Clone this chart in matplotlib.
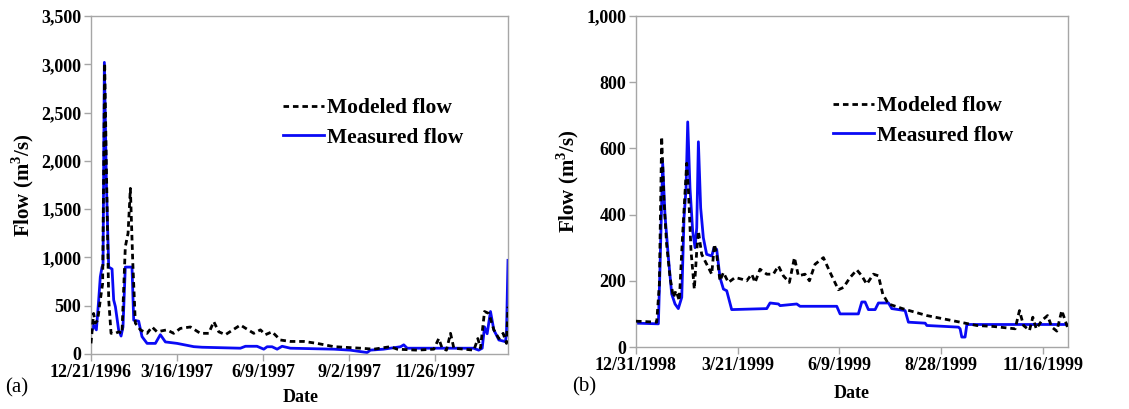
import matplotlib
matplotlib.use("Agg")
import matplotlib.pyplot as plt
import numpy as np
import pandas as pd

# ---------------- data: panel (a) ----------------
start_a = "1996-12-21"
meas_a_days = [0, 2.6, 5.3, 7.6, 9.2, 10.9, 11.9, 13.2, 15.2, 17.5, 20.8, 22.4, 24.1, 27.3, 29.7,
               31.6, 33.9, 40.5, 42.2, 47.1, 50.4, 55.4, 63.6, 68.5, 73.5, 85, 101.5, 109.7,
               147.6, 152.6, 164, 170.7, 174, 178.9, 183.9, 188.8, 197, 240, 256, 272.8, 276,
               289, 305.8, 309, 312.4, 338.7, 378, 383, 386.5, 388.8, 391.4, 394.7, 398, 403,
               409.5, 410.5, 412]
meas_a_vals = [214, 300, 250, 560, 800, 900, 920, 3020, 1770, 900, 880, 560, 490, 250, 186,
               280, 900, 900, 350, 340, 180, 110, 110, 200, 125, 110, 76, 70,
               60, 80, 80, 50, 75, 75, 50, 80, 60, 50, 40, 15, 40,
               50, 75, 95, 60, 60, 60, 40, 60, 280, 210, 440, 250, 145,
               128, 214, 970]
mod_a_days = [0, 2.6, 4.3, 6.6, 9.2, 11.5, 13.5, 15.2, 17.5, 19.8, 24.1, 27.3, 30.6, 33.9, 36.6,
              38.9, 41.2, 43.8, 48.8, 55.4, 60.3, 65.2, 75, 81.7, 88.3, 98.2, 108, 116.3, 121.3,
              126.2, 132.8, 147.6, 160.8, 167.4, 172.3, 178.9, 187.1, 197, 210.2, 223.4, 240,
              266.2, 279.4, 295.9, 302.5, 322.2, 338.7, 343.6, 346.9, 351.2, 355.2, 358.5,
              378.3, 382.2, 384.8, 388.8, 393.1, 398, 403, 407.2, 410.5, 412]
mod_a_vals = [110, 420, 320, 350, 560, 730, 3010, 1940, 560, 214, 214, 230, 214, 1110, 1250,
              1715, 970, 320, 250, 214, 280, 230, 250, 214, 265, 280, 214, 214, 335,
              230, 200, 300, 214, 250, 200, 230, 145, 130, 130, 110, 76,
              60, 50, 76, 50, 40, 50, 160, 60, 40, 214, 60,
              40, 160, 60, 440, 420, 250, 160, 214, 110, 490]
ticks_a = ["12/21/1996", "3/16/1997", "6/9/1997", "9/2/1997", "11/26/1997"]
tick_step_a = 85
xmax_a = 412
yticks_a = [0, 500, 1000, 1500, 2000, 2500, 3000, 3500]

# ---------------- data: panel (b) ----------------
start_b = "1998-12-31"
meas_b_days = [0, 17.6, 18.9, 21, 22.8, 25.5, 28.1, 30.7, 33.3, 36, 37.8, 39.4, 40.7, 42.5,
               44.6, 46.5, 47.8, 49.1, 50.9, 53, 55.6, 59.6, 61.4, 63.5, 66.1, 68.8, 71.4,
               75.3, 102.9, 105.5, 112.1, 113.4, 126.5, 129.1, 158, 160.6, 175, 177.7, 180.3,
               182.9, 188.2, 190.8, 198.7, 201.3, 211.8, 214.4, 227.6, 228.9, 253.8, 255.1,
               256.4, 259, 260.4, 340]
meas_b_vals = [72, 70, 240, 555, 400, 270, 160, 130, 116, 150, 390, 480, 680, 480,
               350, 300, 360, 620, 420, 330, 280, 275, 300, 295, 210, 175, 170,
               113, 116, 133, 130, 125, 130, 123, 123, 100, 100, 136, 136,
               113, 113, 133, 133, 116, 110, 75, 72, 65, 60, 55,
               30, 30, 68, 68]
mod_b_days = [0, 16.3, 18.4, 20.2, 22, 24.1, 26.8, 29.4, 31.5, 34.1, 36.7, 39.9, 41.2, 43.3,
              45.9, 47.8, 49.1, 51.7, 54.3, 57, 59.6, 61.7, 63.5, 66.1, 68.8, 72.7, 78, 83.2,
              87.1, 91.1, 93.7, 97.6, 102.9, 108.1, 112.1, 116, 120.7, 124.7, 127.8, 133,
              136.5, 140.9, 147.5, 152.8, 159.3, 163.3, 168.5, 173.8, 177.7, 181.6, 186.9,
              190.8, 194.2, 198.7, 210.5, 228.9, 242, 255.1, 268.2, 281.4, 298.4, 301.8, 305,
              309.7, 312.3, 315, 319.4, 323.9, 327.3, 331.2, 335.1, 337.8, 340]
mod_b_vals = [78, 75, 190, 635, 445, 310, 210, 150, 170, 140, 340, 555, 480, 290,
              175, 290, 350, 280, 260, 240, 220, 310, 280, 200, 225, 195, 210, 205,
              200, 220, 195, 235, 220, 220, 245, 215, 195, 270, 215, 220,
              200, 250, 270, 225, 173, 180, 210, 233, 215, 190, 220,
              215, 160, 130, 115, 95, 85, 75, 65, 62, 55, 110, 65,
              50, 90, 55, 80, 95, 60, 48, 110, 80, 55]
ticks_b = ["12/31/1998", "3/21/1999", "6/9/1999", "8/28/1999", "11/16/1999"]
tick_step_b = 80
xmax_b = 340
yticks_b = [0, 200, 400, 600, 800, 1000]

series_labels = ["Modeled flow", "Measured flow"]

# ---------------- drawing ----------------
plt.rcParams["font.family"] = ["Liberation Serif", "DejaVu Serif"]
plt.rcParams["mathtext.fontset"] = "custom"
plt.rcParams["mathtext.rm"] = "Liberation Serif"
plt.rcParams["mathtext.bf"] = "Liberation Serif:bold"

GREY = "#a6a6a6"
W, H = 1129, 409
fig = plt.figure(figsize=(W / 100, H / 100), dpi=100)


def to_dates(start, days):
    return pd.Timestamp(start) + pd.to_timedelta(np.asarray(days, float), unit="D")


def panel(rect, start, md, mv, sd, sv, ticks, step, xmax, yticks, legend_xy, tag, tag_xy, date_xy):
    ax = fig.add_axes(rect)
    ax.plot(to_dates(start, md), mv, color="black", lw=2.0, ls=(0, (2.0, 1.4)),
            label=series_labels[0], zorder=3)
    ax.plot(to_dates(start, sd), sv, color="#0a0af5", lw=2.0, label=series_labels[1], zorder=2)
    ax.set_xlim(to_dates(start, [0])[0], to_dates(start, [xmax])[0])
    ax.set_ylim(yticks[0], yticks[-1])
    ax.set_yticks(yticks)
    ax.set_yticklabels([f"{v:,}" for v in yticks], fontweight="bold")
    tpos = to_dates(start, [i * step for i in range(len(ticks))])
    ax.set_xticks(tpos)
    ax.set_xticklabels(ticks, fontweight="bold")
    for s in ax.spines.values():
        s.set_color(GREY)
        s.set_linewidth(1.0)
    ax.tick_params(axis="both", direction="out", length=5, width=1.0, color=GREY,
                   labelsize=13, pad=2)
    ax.set_ylabel("Flow (m$^\\mathbf{3}$/s)", fontweight="bold", fontsize=15, labelpad=4)
    fig.text(date_xy[0] / W, 1 - date_xy[1] / H, "Date", fontweight="bold",
             fontsize=13, ha="center", va="center")
    fig.text(tag_xy[0] / W, 1 - tag_xy[1] / H, tag, fontsize=15,
             ha="left", va="center")
    ax.legend(loc="upper left", bbox_to_anchor=legend_xy, frameon=False,
              handlelength=1.9, handletextpad=0.15, labelspacing=0.45, borderpad=0,
              borderaxespad=0, prop={"weight": "bold", "size": 15.5})
    return ax


panel([91 / W, 1 - 354 / H, (508 - 91) / W, (354 - 16) / H], start_a,
      mod_a_days, mod_a_vals, meas_a_days, meas_a_vals, ticks_a, tick_step_a, xmax_a,
      yticks_a, (0.46, 0.757), "(a)", (5, 388), (301, 398))
panel([636 / W, 1 - 347 / H, (1068 - 636) / W, (347 - 16) / H], start_b,
      mod_b_days, mod_b_vals, meas_b_days, meas_b_vals, ticks_b, tick_step_b, xmax_b,
      yticks_b, (0.456, 0.758), "(b)", (572, 387), (852, 393))

fig.savefig("out.png", dpi=100)
